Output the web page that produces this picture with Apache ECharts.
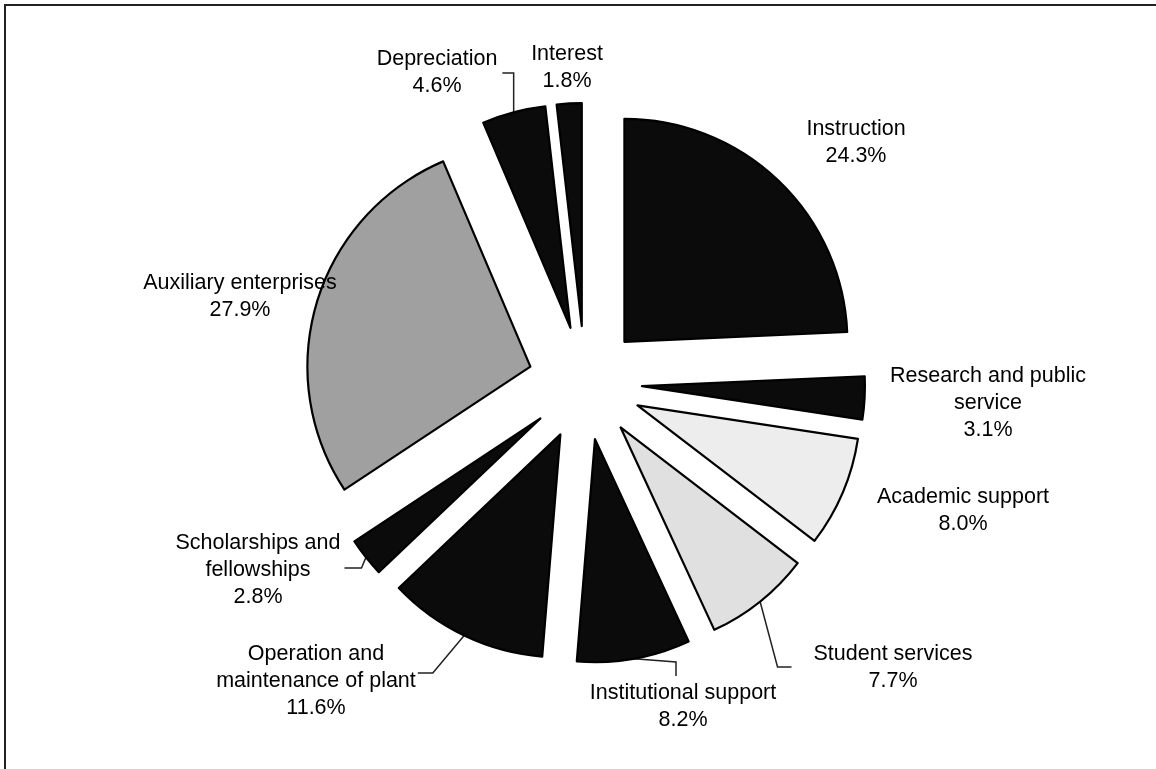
<!DOCTYPE html>
<html><head><meta charset="utf-8">
<script src="https://cdn.jsdelivr.net/npm/echarts@6/dist/echarts.min.js"></script>
<style>html,body{margin:0;padding:0;background:#fff}#c{width:1156px;height:769px}</style>
</head><body><div id="c"></div>
<script>
// ---- data ----
const categories = ['Instruction', 'Research and public\nservice', 'Academic support', 'Student services',
  'Institutional support', 'Operation and\nmaintenance of plant', 'Scholarships and\nfellowships',
  'Auxiliary enterprises', 'Depreciation', 'Interest'];
const shares = [24.3, 3.1, 8.0, 7.7, 8.2, 11.6, 2.8, 27.9, 4.6, 1.8];

// ---- styling / layout ----
const fills = ['#0b0b0b', '#0b0b0b', '#ededed', '#e0e0e0', '#0b0b0b', '#0b0b0b', '#0b0b0b', '#a0a0a0', '#0b0b0b', '#0b0b0b'];
const labelCentres = [[856, 143], [988, 403], [963, 511], [893, 668], [683, 707], [316, 681], [258, 570], [240, 297], [437, 73], [567, 68]];
// leader line spec: side of the label the line joins, shift, gap from label, length of last run
const leaders = [null, null, null,
  {side: 'left', dy: -1, gap: 22, run: 14},
  {side: 'top', dx: -7, gap: 4, run: 14},
  {side: 'right', dy: -8, gap: 2, run: 15},
  {side: 'right', dy: -2, gap: 4, run: 17},
  null,
  {side: 'rightTop', dy: 0, gap: 5},
  null];

const CENTER = [585, 383];
const RADIUS = 223;
const EXPLODE = 57;

const chart = echarts.init(document.getElementById('c'), null, {renderer: 'canvas'});

const sliceData = categories.map((name, i) => ({
  name: name,
  value: shares[i],
  selected: true,
  itemStyle: {color: fills[i], borderColor: '#000', borderWidth: 2.2},
  select: {itemStyle: {color: fills[i], borderColor: '#000', borderWidth: 2.2}}
}));

const labelData = categories.map((name, i) => ({
  name: name,
  value: shares[i],
  labelLine: {show: !!leaders[i]}
}));

chart.setOption({
  backgroundColor: '#ffffff',
  animation: false,
  graphic: [{
    type: 'rect', silent: true,
    shape: {x: 5, y: 5, width: 1300, height: 900},
    style: {fill: 'none', stroke: '#222', lineWidth: 2}
  }],
  series: [{
    // exploded slices
    type: 'pie',
    center: CENTER,
    radius: RADIUS,
    startAngle: 90,
    clockwise: true,
    selectedMode: 'multiple',
    selectedOffset: EXPLODE,
    silent: true,
    emphasis: {disabled: true},
    label: {show: false},
    labelLine: {show: false},
    data: sliceData
  }, {
    // label carrier: same angles, radius reaching the exploded rim
    type: 'pie',
    center: CENTER,
    radius: RADIUS + EXPLODE,
    startAngle: 90,
    clockwise: true,
    selectedMode: false,
    silent: true,
    avoidLabelOverlap: false,
    emphasis: {disabled: true},
    itemStyle: {color: 'rgba(0,0,0,0)', borderWidth: 0},
    label: {
      show: true,
      position: 'outside',
      formatter: p => p.name + '\n' + p.value.toFixed(1) + '%',
      fontFamily: 'Liberation Sans',
      fontSize: 21.5,
      lineHeight: 27,
      color: '#000',
      align: 'center'
    },
    labelLine: {show: true, length: 10, length2: 10, lineStyle: {color: '#222', width: 1.5}},
    labelLayout: function (p) {
      const i = p.dataIndex;
      const c = labelCentres[i];
      const w = p.labelRect.width, h = p.labelRect.height;
      const out = {x: c[0], y: c[1], align: 'center', verticalAlign: 'middle'};
      const L = leaders[i];
      const pts = p.labelLinePoints;
      if (L && pts && pts.length) {
        const a = pts[0];
        let p1, p2;
        if (L.side === 'left') {
          const y = c[1] + L.dy;
          p2 = [c[0] - w / 2 - L.gap, y];
          p1 = [p2[0] - L.run, y];
        } else if (L.side === 'right') {
          const y = c[1] + L.dy;
          p2 = [c[0] + w / 2 + L.gap, y];
          p1 = [p2[0] + L.run, y];
        } else if (L.side === 'top') {
          p2 = [c[0] + L.dx, c[1] - h / 2 - L.gap];
          p1 = [p2[0], p2[1] - L.run];
        } else {
          const y = c[1] + L.dy;
          p2 = [c[0] + w / 2 + L.gap, y];
          p1 = [a[0], y];
        }
        out.labelLinePoints = [a, p1, p2];
      }
      return out;
    },
    data: labelData
  }]
});
</script></body></html>
